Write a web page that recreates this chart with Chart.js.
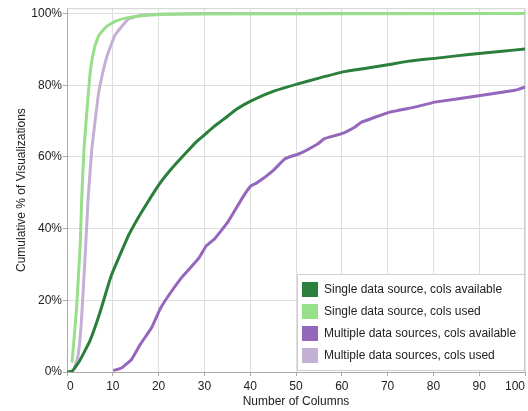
<!DOCTYPE html>
<html>
<head>
<meta charset="utf-8">
<script src="https://cdn.jsdelivr.net/npm/chart.js@4"></script>
<style>
  html, body { margin: 0; padding: 0; background: #fff; }
  #wrap { width: 528px; height: 411px; }
</style>
</head>
<body>
<div id="wrap"><canvas id="mainChart" width="528" height="411"></canvas></div>
<script>
// [number of columns, cumulative %]
const singleAvailable = [[0,0],[1.2,0.3],[2.7,3],[5,8.7],[7.2,16.6],[9.3,25.5],[10.1,28.3],[12.9,36.6],[13.5,38.3],[16,44],[20.2,52.5],[23,57],[26.1,61.3],[28.4,64.4],[30.4,66.6],[32,68.4],[34.1,70.4],[37,73.3],[40.1,75.6],[45,78.3],[50.4,80.4],[55,82],[60.5,83.8],[65,84.7],[70.4,85.8],[75,86.8],[80.3,87.5],[85,88.2],[90.5,88.9],[95,89.5],[100,90.1]];
const singleUsed = [[1.1,2.6],[2.1,18],[2.9,36],[3.2,48],[3.7,62],[4.6,77],[5.2,85],[6.1,91],[7,94],[8.7,96.5],[10.5,97.8],[13,98.8],[18,99.6],[25,99.9],[100,100]];
const multiAvailable = [[10.1,0.4],[12,1.2],[14.1,3.5],[16,7.7],[18.5,12.4],[20.3,17.5],[22,21],[24.8,26],[26.4,28.3],[28.9,32],[30.4,35.2],[32.2,37.1],[35.1,41.8],[38.4,48.8],[40.2,52],[41.4,52.7],[45,56.2],[47.6,59.5],[50.9,61],[54.8,63.7],[56.2,65.1],[60,66.5],[62.8,68.3],[64.3,69.7],[70.5,72.5],[75.9,73.9],[80.3,75.3],[90.6,77.2],[97.8,78.6],[100,79.5]];
const multiUsed = [[1.6,1],[2.4,4.5],[3.1,13.3],[3.9,31],[4.6,48],[5.4,62],[6.7,76],[7.2,80],[8.7,88],[10.5,94],[13.4,98.5],[16,99.5],[20,99.8],[30,100],[100,100]];

const yTicks = [0, 20, 40, 60, 80, 100];

const seriesLabels = [
    'Single data source, cols available',
    'Single data source, cols used',
    'Multiple data sources, cols available',
    'Multiple data sources, cols used'
];
const seriesColors = ['#2a7f3a', '#98df8a', '#9467bd', '#c5b0d5'];
const seriesData = [singleAvailable, singleUsed, multiAvailable, multiUsed];

const FONT = "'Liberation Sans', Arial, sans-serif";
Chart.defaults.font.family = FONT;
Chart.defaults.font.size = 12;
Chart.defaults.color = '#222';

const frame = {
    id: 'frame',
    beforeDatasetsDraw(chart) {
        const a = chart.chartArea, c = chart.ctx;
        c.save();
        c.strokeStyle = '#d0d0d0';
        c.lineWidth = 1;
        c.beginPath();
        c.moveTo(a.left, a.top + 0.5);
        c.lineTo(a.right - 0.5, a.top + 0.5);
        c.lineTo(a.right - 0.5, a.bottom);
        c.stroke();
        c.restore();
    },
    afterDraw(chart) {
        // legend box in the lower right
        const c = chart.ctx;
        const bx = 297.5, by = 274.5, bw = 227, bh = 96;
        c.save();
        c.fillStyle = '#fff';
        c.fillRect(bx, by, bw, bh);
        c.strokeStyle = '#cfcfcf';
        c.lineWidth = 1;
        c.strokeRect(bx, by, bw, bh);
        c.font = '12px ' + FONT;
        c.textBaseline = 'middle';
        chart.data.datasets.forEach((ds, i) => {
            const y = 282 + i * 22;
            c.fillStyle = ds.borderColor;
            c.fillRect(302, y, 16, 15);
            c.fillStyle = '#222';
            c.fillText(ds.label, 324, y + 8);
        });
        c.restore();
    }
};

const ctx = document.getElementById('mainChart').getContext('2d');
new Chart(ctx, {
    type: 'line',
    data: {
        datasets: seriesData.map((d, i) => ({
            label: seriesLabels[i],
            data: d.map(p => ({ x: p[0], y: p[1] })),
            borderColor: seriesColors[i],
            backgroundColor: seriesColors[i],
            borderWidth: 3,
            pointRadius: 0,
            tension: 0.1,
            fill: false
        }))
    },
    options: {
        responsive: false,
        animation: false,
        layout: { padding: { left: 0, right: 3, top: 8, bottom: 0 } },
        plugins: { legend: { display: false }, tooltip: { enabled: false } },
        scales: {
            x: {
                type: 'linear',
                min: 0,
                max: 100,
                ticks: { stepSize: 10, align: 'inner', padding: 3, color: '#222' },
                grid: { color: '#dedede', tickColor: '#aaa', tickLength: 4 },
                border: { color: '#aaa' },
                title: { display: true, text: 'Number of Columns', color: '#222', padding: { top: 1, bottom: 2 } },
                afterFit(scale) { scale.height = 39; }
            },
            y: {
                min: 0,
                max: 101.5,
                ticks: { padding: 1, color: '#222', callback: v => v + '%' },
                afterBuildTicks(scale) { scale.ticks = yTicks.map(v => ({ value: v })); },
                grid: { color: '#dedede', tickColor: '#aaa', tickLength: 4 },
                border: { color: '#aaa' },
                title: { display: true, text: 'Cumulative % of Visualizations', color: '#222', padding: { top: 14, bottom: 0 } },
                afterFit(scale) { scale.width = 67; }
            }
        }
    },
    plugins: [frame]
});
</script>
</body>
</html>
